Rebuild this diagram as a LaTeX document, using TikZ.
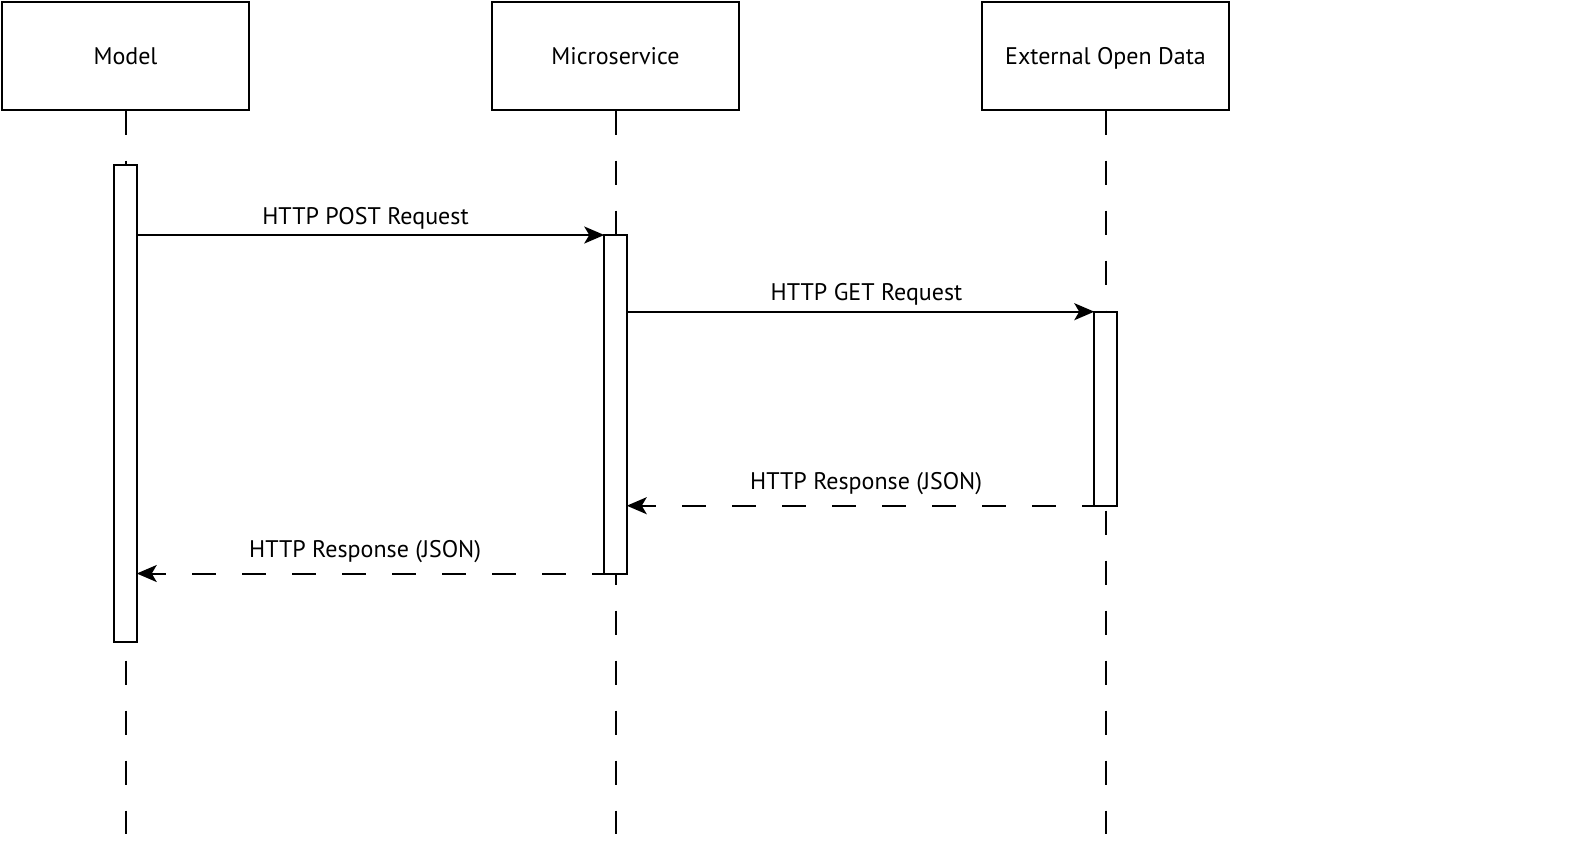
\documentclass[tikz,border=0pt]{standalone}
\usepackage{fontspec}
\setmainfont{PT Sans}
\usetikzlibrary{arrows.meta,positioning}

\tikzset{
  header/.style={draw, line width=2pt, minimum width=247pt, minimum height=107.5pt, inner sep=0pt,
    text height=17pt, text depth=0pt},
  act/.style={draw, line width=2pt, fill=white, minimum width=22.5pt, inner sep=0pt, outer sep=0pt},
  lifeline/.style={line width=2pt, dash pattern=on 24pt off 26pt},
  msg/.style={line width=2pt, -{Stealth[length=20pt,width=17pt,inset=5pt]}},
  reply/.style={msg, dash pattern=on 24pt off 26pt},
  lbl/.style={midway, anchor=base, yshift=11pt, inner sep=0pt}
}

\begin{document}
\begin{tikzpicture}[x=1pt, y=-1pt, node distance=490pt, on grid,
    font=\fontsize{24}{28}\selectfont]
  \useasboundingbox (0,0) rectangle (1595,857);

  \node[header] (model) at (125.5,55.75) {Model};
  \node[header] (micro) [right of=model] {Microservice};
  \node[header] (ext) [right of=micro] {External Open Data};

  \coordinate (model_end) at (125.5,834);
  \coordinate (micro_end) at (615.5,834);
  \coordinate (ext_end) at (1105.5,834);

  \draw[lifeline] (model.south) -- (model_end);
  \draw[lifeline] (micro.south) -- (micro_end);
  \draw[lifeline] (ext.south) -- (ext_end);

  \node[act, minimum height=476.7pt] (model_act) at (125.5,403.35) {};
  \node[act, minimum height=338.5pt] (micro_act) at (615.5,404.25) {};
  \node[act, minimum height=194pt] (ext_act) at (1105.5,408.7) {};

  \draw[msg] (model_act.east |- micro_act.north) -- node[lbl, xshift=-5pt] {HTTP POST Request} (micro_act.north west);
  \draw[msg] (micro_act.east |- ext_act.north) -- node[lbl, xshift=6pt] {HTTP GET Request} (ext_act.north west);
  \draw[reply] (ext_act.south) -- node[lbl, yshift=5pt] {HTTP Response (JSON)} (ext_act.south -| micro_act.east);
  \draw[reply] (micro_act.south) -- node[lbl, yshift=5pt, xshift=-11pt] {HTTP Response (JSON)} (micro_act.south -| model_act.east);

\end{tikzpicture}
\end{document}
